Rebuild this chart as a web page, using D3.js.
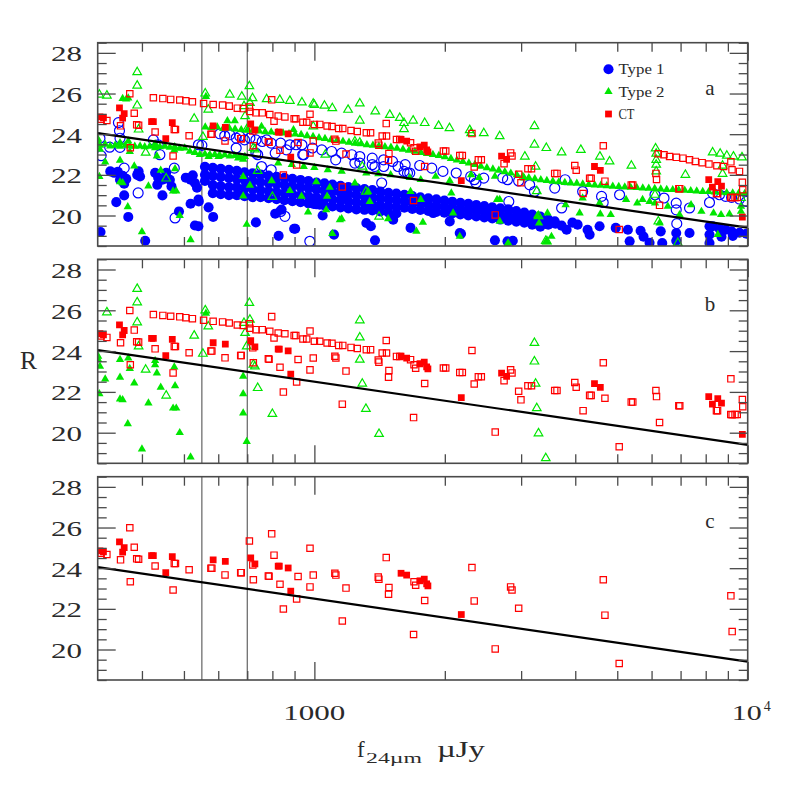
<!DOCTYPE html>
<html><head><meta charset="utf-8">
<script src="https://cdn.jsdelivr.net/npm/d3@7/dist/d3.min.js"></script>
<style>html,body{margin:0;padding:0;background:#fff;}svg{display:block;font-family:"Liberation Serif","DejaVu Serif",serif;}</style>
</head><body>
<svg id="chart" width="789" height="789"></svg>
<script>
// ---------------- DATA ----------------
const xDomain = [316.2, 10000];
const yDomain = [18.5, 28.5];
const yMajorTicks = [20, 22, 24, 26, 28];
const yTickLabels = ["20", "22", "24", "26", "28"];
const xMajorTicks = [1000, 10000];
const xMinorTicks = [400, 500, 600, 700, 800, 900, 2000, 3000, 4000, 5000, 6000, 7000, 8000, 9000];
const vLines = [550, 700];
const fitLine = [[316.2, 24.05], [10000, 19.4]];
const legendItems = ["Type 1", "Type 2", "CT"];
const panelLetters = ["a", "b", "c"];

// Type 1 (panel a only): dense band of filled circles
const type1Band = [
[559,22.4],[559,22.0],[559,21.7],
[583,22.35],[583,21.95],[583,21.5],[583,21.1],
[608,22.3],[608,21.9],[608,21.45],[608,21.05],
[635,22.25],[635,21.85],[635,21.4],[635,21.0],
[662,22.2],[662,21.8],[662,21.4],[662,21.0],
[690,22.12],[690,21.75],[690,21.35],[690,20.95],
[720,22.08],[720,21.7],[720,21.3],[720,20.9],
[751,22.02],[751,21.65],[751,21.25],[751,20.9],
[784,21.96],[784,21.6],[784,21.2],[784,20.85],
[818,21.9],[818,21.55],[818,21.15],[818,20.8],
[853,21.85],[853,21.5],[853,21.1],[853,20.75],
[890,21.8],[890,21.45],[890,21.05],[890,20.7],
[929,21.75],[929,21.4],[929,21.0],[929,20.65],
[969,21.7],[969,21.35],[969,20.95],[969,20.6],
[1011,21.62],[1011,21.28],[1011,20.9],[1011,20.55],
[1055,21.58],[1055,21.22],[1055,20.85],[1055,20.5],
[1101,21.52],[1101,21.18],[1101,20.8],[1101,20.45],
[1149,21.46],[1149,21.12],[1149,20.75],[1149,20.4],
[1198,21.4],[1198,21.06],[1198,20.7],[1198,20.35],
[1250,21.35],[1250,21.0],[1250,20.65],[1250,20.3],
[1305,21.3],[1305,20.95],[1305,20.6],[1305,20.28],
[1361,21.25],[1361,20.9],[1361,20.55],[1361,20.25],
[1420,21.18],[1420,20.85],[1420,20.5],[1420,20.2],
[1482,21.12],[1482,20.8],[1482,20.45],[1482,20.15],
[1546,21.08],[1546,20.75],[1546,20.42],[1546,20.1],
[1613,21.02],[1613,20.7],[1613,20.38],
[1683,20.96],[1683,20.64],[1683,20.32],
[1756,20.9],[1756,20.58],[1756,20.27],
[1832,20.85],[1832,20.53],[1832,20.22],
[1912,20.8],[1912,20.48],[1912,20.18],
[1995,20.74],[1995,20.43],[1995,20.14],
[2081,20.68],[2081,20.38],[2081,20.1],
[2172,20.63],[2172,20.33],[2172,20.05],
[2266,20.57],[2266,20.28],[2266,20.0],
[2364,20.52],[2364,20.23],[2364,19.95],
[2467,20.46],[2467,20.18],[2467,19.9],
[2574,20.4],[2574,20.12],[2574,19.85],
[2686,20.35],[2686,20.06],[2686,19.8],
[2802,20.3],[2802,20.0],[2802,19.75],
[2924,20.22],[2924,19.95],[2924,19.7],
[3051,20.15],[3051,19.9],[3051,19.65],
[3183,20.05],[3183,19.8],[3183,19.55],
[3321,19.95],[3321,19.7],[3321,19.45],
[3465,19.8],[3465,19.55],[3600,19.6]
];
const type1Filled = [
[321,19.19],[349,20.66],[364,20.99],[372,19.93],[338,22.17],[345,22.1],[352,22.15],[361,21.95],[356,21.76],[364,21.56],[368,21.8],
[390,22.0],[396,21.92],[393,22.17],[407,18.76],[429,22.1],[436,21.86],[434,21.51],[446,21.76],[455,22.1],[464,21.76],[468,21.43],
[446,20.99],[487,20.2],[505,21.86],[518,21.76],[530,21.6],[536,21.37],[524,21.98],[518,20.58],[530,19.51],[540,20.78],[584,19.93],
[733,19.66],[812,20.09],[840,20.29],[827,19.0],[898,19.35],[541,20.69],[570,20.4],[540,19.47],[667,21.02],[996,20.57],[1110,19.06],
[1160,21.02],[1360,20.53],[1318,19.63],[1350,19.47],[1380,18.78],[1520,19.79],[1667,19.39],[1880,20.12],[2053,19.71],[2165,19.14],
[2610,18.78],[2790,18.73],[1029,20.53],[1045,20.0],[903,19.35],[2180,19.1],[2870,18.76],[3030,19.83],[3310,19.71],[3450,19.6],
[3587,19.71],[3720,19.5],[3820,19.3],[3940,19.65],[4050,19.55],[4270,19.3],[4317,19.06],[4552,19.47],[4960,19.39],[5290,19.3],
[5340,18.73],[5660,19.25],[5750,18.96],[5936,18.66],[6300,19.22],[6350,18.65],[6840,19.14],[6840,18.76],[7341,19.14],[8163,19.47],
[8163,19.06],[8163,18.65],[8300,19.47],[8609,19.35],[8890,19.3],[9180,19.22],[9573,19.15],[9930,19.1],[8700,18.96],[9240,19.0]
];
const type1Open = [
[353,24.57],[355,24.17],[320,23.8],[322,22.94],[337,23.36],[356,23.35],[356,23.8],[364,22.33],[392,21.11],[425,23.72],[436,23.48],
[440,22.99],[475,22.33],[477,19.88],[540,23.48],[550,23.45],
[605,24.02],[621,23.92],[638,23.97],[660,23.81],[673,23.89],[690,23.72],[710,23.81],[733,23.72],[758,23.64],[776,23.72],[795,23.56],
[836,23.56],[878,23.48],[907,23.48],[936,23.48],[990,23.32],[1040,23.23],[1096,23.15],[1156,23.07],[1220,22.99],[1273,22.9],[1360,22.82],
[1445,22.74],[1515,22.66],[1620,22.5],[1750,22.46],[1866,22.33],[1980,22.17],[2125,22.09],[2295,21.92],[2340,21.76],[2460,21.84],
[2720,21.85],[2790,21.76],[2960,21.7],[3139,21.51],[3220,21.18],[3587,21.35],[3790,21.76],[4160,21.18],[4600,20.94],[5062,21.02],
[6410,20.86],[6840,20.61],[6840,20.28],[7341,20.37],[8163,20.64],[8300,21.1],[8609,21.02],[8890,20.94],[9180,20.89],[9573,20.81],[9930,20.69],
[660,23.32],[733,23.07],[862,23.23],[755,22.41],[795,22.25],[855,19.96],[836,20.2],[740,22.99],[812,23.07],[945,22.99],[976,18.73],
[1240,22.58],[1380,22.41],[1430,21.6],[1640,22.09],[1120,22.74],[940,22.99],[2360,21.6],[2810,20.69],[3720,20.37],[4640,20.64],
[6860,19.6],[6110,21.02],[1273,22.58],[1360,22.5],[1445,22.41],[1560,22.41],[1610,22.17],[1660,22.09]
];

// Type 2 shown in panels a and b
const type2FilledCommon = [
[317,23.74],[317,23.58],[320,23.25],[329,22.63],[319,21.91],[356,23.58],[372,23.66],[375,23.14],[356,22.71],[356,21.65],[361,21.61],
[371,20.43],[384,22.43],[400,19.2],[414,21.45],[429,23.53],[429,23.33],[433,22.92],[442,22.22],[475,23.22],[477,22.3],[472,21.2],
[480,21.2],[489,20.0],[518,18.8],[685,22.76],[685,21.91],[685,20.96],[698,19.56],[562,25.85]
];
const type2OpenCommon = [
[332,25.9],[390,27.05],[390,26.39],[390,25.41],[393,24.23],[408,23.09],[455,21.82],[528,24.76],[553,23.87],[560,26.0],[569,25.21],
[688,25.38],[692,24.89],[708,26.36],[710,25.54],[698,24.23],[723,23.33],[729,23.25],[740,22.19],[800,20.92],[1273,25.51],[1273,24.67],
[1273,23.58],[1290,22.4],[1315,21.17],[1410,19.94],[3220,24.4],[3220,23.49],[3240,22.4],[3260,21.2],[3290,19.97],[3420,18.75]
];
// Type 2 only in panel a: upper dense sequence
const type2RowA = [
[560,24.35],[578,24.32],[597,24.35],[616,24.28],[636,24.3],[656,24.25],[678,24.22],[700,24.2],[722,24.2],[746,24.15],[770,24.12],
[795,24.1],[820,24.08],[847,24.05],[874,24.02],[903,24.0],[932,23.98],[962,23.92],[993,23.88],[1025,23.82],[1058,23.78],[1092,23.72],
[1128,23.7],[1164,23.65],[1202,23.6],[1241,23.55],[1281,23.52],[1322,23.48],[1365,23.45],[1409,23.42],[1455,23.38],[1502,23.35],
[1551,23.3],[1601,23.25],[1653,23.2],[1706,23.15],[1762,23.1],[1819,23.05],[1877,23.0],[1938,22.95],[2001,22.88],[2066,22.8],
[2132,22.72],[2201,22.65],[2273,22.58],[2346,22.5],[2422,22.42],[2501,22.35],[2582,22.28],[2665,22.22],[2751,22.15],[2840,22.08],
[2932,22.0],[3027,21.93],[3125,21.86],[3227,21.8],[3331,21.75],[3439,21.72],[3550,21.68],[3665,21.65],[3784,21.62],[3906,21.6],
[4033,21.58],[4163,21.55],[4298,21.52],[4437,21.5],[4581,21.48],[4729,21.46],[4882,21.44],[5040,21.42],[5204,21.4],[5372,21.38],
[5546,21.37],[5726,21.35],[5911,21.34],[6102,21.32],[6300,21.3],[6504,21.28],[6714,21.27],[6932,21.25],[7156,21.24],[7388,21.22],
[7627,21.2],[7874,21.18],[8129,21.17],[8392,21.15],[8664,21.14],[8945,21.12],[9234,21.1],[9533,21.09],[9842,21.08]
];
const type2FilledA = [
[320,23.45],[329,23.5],[338,23.42],[347,23.45],[356,23.4],[366,23.45],[375,23.42],[385,23.4],[396,23.42],[406,23.38],[417,23.4],
[428,23.45],[440,23.38],[452,23.4],[464,23.35],[476,23.38],[489,23.3],[502,23.32],[516,23.15],[530,23.1],[544,23.0],[559,23.02],
[574,22.98],[589,23.0],[605,22.95],[621,22.98],[638,22.92],[655,22.95],[673,22.9],[691,22.9],
[570,22.9],[601,22.9],[667,22.82],[825,22.58],[887,22.5],[945,22.41],[1000,22.36],[1074,22.25],[1156,22.17],[710,21.48],[797,21.71],
[878,21.22],[934,20.94],[967,20.17],[1065,20.28],[1156,19.84],[1085,21.38],[1010,21.65],
[1318,22.09],[1405,22.05],[1500,22.0],[1660,21.87],[1760,21.76],[1905,21.92],[2053,21.71],[2300,22.0],[2400,21.87],[2610,21.92],
[1342,20.69],[1330,21.18],[1480,19.84],[1667,21.18],[1720,19.22],[2090,20.12],[2165,18.97],[2677,20.78],[2677,19.71],[2790,18.57],
[1145,19.79],[1240,21.6],[1070,20.94],[1100,19.11],[1760,20.78],[1780,19.66],[2070,21.1],[2640,20.78],[2800,18.65],[3050,21.84],
[3270,20.0],[3300,19.63],[3430,18.71],[3450,20.12],[3800,20.53],[4094,20.12],[4160,20.86],[4552,20.61],[4570,20.07],[4830,20.04],
[5240,20.78],[5560,20.61],[5720,20.78],[5936,20.69],[6110,20.61],[6540,20.45],[6260,19.63],[6961,20.04],[7400,20.53],[7820,20.2],
[8340,20.12],[8680,20.04],[9078,20.07],[9650,20.2],[9650,20.45],[3525,18.97],[8530,19.06],
[630,24.66],[655,24.66],[755,24.38],[895,24.22],[361,25.75],[368,25.72],[372,25.78]
];
const type2OpenA = [
[319,25.94],[638,25.94],[680,25.85],[720,25.77],[776,25.72],[832,25.69],[878,25.64],[936,25.56],[994,25.5],[1000,25.44],[1055,25.4],
[1100,25.28],[1196,25.2],[1382,25.12],[1493,24.95],[1574,24.8],[1690,24.67],[1797,24.55],[1935,24.41],[2050,24.3],[2283,24.2],
[2460,24.05],[2677,23.9],[3430,23.32],[3720,23.1],[4120,23.23],[4560,22.9],[4800,22.66],[5390,22.45],[6130,23.3],[6150,23.04],
[6150,22.74],[6150,22.5],[6150,22.17],[7180,22.0],[8300,23.1],[8640,23.04],[8950,22.94],[9270,22.9],[9700,22.86],[994,24.38],
[1610,24.55],[1610,24.25],[2300,24.05],[1240,23.64],[1060,22.99],[6110,21.02],[6220,19.71],[8750,22.45],[8750,22.05],[9650,20.86],
[3440,18.73],[6900,18.65],[3060,22.9]
];

// CT: shown in all three panels
const ctFilledC = [
[320,24.85],[326,24.8],[355,25.29],[364,25.01],[361,24.79],[421,24.62],[425,24.62],[470,24.57],[454,23.78],[584,24.41],[623,24.34],
[713,24.51],[729,24.21],[825,24.1],[830,24.1],[870,24.01],[882,22.87],[1585,23.75],[1633,23.66],[1753,23.38],[1793,23.46],
[1816,23.23],[1828,23.13],[2183,21.72]
];
const ctOpenC = [
[322,24.74],[332,24.67],[357,24.41],[375,25.99],[384,25.03],[376,23.33],[389,24.46],[393,24.44],[429,24.11],[472,22.93],[475,24.23],
[478,24.23],[514,23.92],[577,24.0],[580,24.0],[622,23.67],[676,23.78],[678,23.78],[708,25.34],[723,23.43],[721,24.16],[783,23.62],
[786,23.6],[797,25.69],[807,24.64],[833,23.21],[848,21.99],[910,22.49],[917,23.59],[977,24.98],[994,23.66],[977,23.08],[1115,23.75],
[1121,23.66],[1183,23.02],[1160,21.4],[1404,23.56],[1409,23.46],[1465,24.52],[1486,23.05],[1483,22.72],[1698,23.33],[1713,23.16],
[1694,20.74],[1797,22.41],[2310,24.03],[2338,22.39],[2614,20.03],[2837,23.08],[2858,22.93],[2961,22.03],[4642,23.43],[4683,21.69],
[5052,19.31],[9145,22.64],[9208,20.88]
];
// CT: panels a and b only
const ctFilledB = [[2704,22.92],[2777,22.76],[4430,22.41],[4570,22.22],[8130,21.77],[8530,21.67],[8290,21.4],[8700,21.45],[9720,19.92]];
const ctOpenB = [
[3990,22.46],[4020,22.23],[4170,21.08],[6140,22.07],[6160,21.77],[6260,20.5],[9720,21.63],[9740,21.27],[8470,21.08],[8520,21.08],
[2740,22.55],[2997,21.61]
];
const ctRow = [
[425,25.79],[447,25.75],[466,25.71],[489,25.68],[505,25.64],[523,25.59],[555,25.51],[584,25.46],[614,25.43],[636,25.38],[664,25.28],
[685,25.26],[710,25.12],[733,25.05],[758,25.05],[789,24.97],[825,24.89],[855,24.85],[898,24.76],[906,24.76],[941,24.59],[960,24.59],
[1000,24.48],[1029,24.48],[1070,24.4],[1098,24.38],[1138,24.28],[1163,24.28],[1215,24.18],[1256,24.13],[1318,24.07],[1348,24.07],
[1434,23.91],[1467,23.91],[1547,23.74],[1574,23.74],[1667,23.58],[1985,23.17],[2010,23.17],[2165,22.95],[2195,22.95],[2390,22.74],
[2428,22.74],[3110,22.3],[3170,22.3],[3586,22.07],[3630,22.07],[4317,21.83],[4353,21.83],[5385,21.5],[5430,21.5],[6935,21.32],
[6970,21.32],[9140,20.89],[9350,20.89],[9460,20.89]
];
// CT: panel a only
const ctRowA = [
[6216,23.04],[6410,22.99],[6602,22.9],[6843,22.86],[7090,22.82],[7341,22.74],[7571,22.66],[7850,22.6],[8140,22.53],[8490,22.45],
[8800,22.41],[9200,22.25],[9573,22.17]
];

// ---------------- DRAWING ----------------
const svg = d3.select('#chart');
const X0 = 97.7, X1 = 747.7;
const x = d3.scaleLog().domain(xDomain).range([X0, X1]);
const BLUE = '#0000ff', GREEN = '#00e600', RED = '#ff0000';
const INK = '#2a2a2a', AXIS = '#4a4a4a';

const panels = [
  {id: 'a', top: 42.7, bottom: 246, letterY: 95},
  {id: 'b', top: 259.3, bottom: 463.3, letterY: 311},
  {id: 'c', top: 476.7, bottom: 680, letterY: 528}
];

const S = {
  t1F: {shape: d3.symbolCircle, size: 80, fill: true, color: BLUE},
  t1O: {shape: d3.symbolCircle, size: 78, fill: false, color: BLUE},
  t2F: {shape: d3.symbolTriangle, size: 30, fill: true, color: GREEN},
  t2O: {shape: d3.symbolTriangle, size: 32, fill: false, color: GREEN},
  ctF: {shape: d3.symbolSquare, size: 46, fill: true, color: RED},
  ctO: {shape: d3.symbolSquare, size: 40, fill: false, color: RED}
};
const seriesByPanel = {
  a: [
    [S.t1F, type1Band.concat(type1Filled)],
    [S.t1O, type1Open],
    [S.t2F, type2FilledCommon.concat(type2RowA, type2FilledA)],
    [S.t2O, type2OpenCommon.concat(type2OpenA)],
    [S.ctF, ctFilledC.concat(ctFilledB)],
    [S.ctO, ctOpenC.concat(ctOpenB, ctRow, ctRowA)]
  ],
  b: [
    [S.t2F, type2FilledCommon],
    [S.t2O, type2OpenCommon],
    [S.ctF, ctFilledC.concat(ctFilledB)],
    [S.ctO, ctOpenC.concat(ctOpenB, ctRow)]
  ],
  c: [
    [S.ctF, ctFilledC],
    [S.ctO, ctOpenC]
  ]
};

const defs = svg.append('defs');
function styleAxis(sel) {
  sel.select('.domain').remove();
  sel.selectAll('.tick text').remove();
  sel.selectAll('.tick line').attr('stroke', AXIS).attr('stroke-width', 1.3);
}

panels.forEach((p, pi) => {
  const y = d3.scaleLinear().domain(yDomain).range([p.bottom, p.top]);
  const g = svg.append('g').attr('class', 'panel-' + p.id);
  const clipId = 'clip-' + p.id;
  defs.append('clipPath').attr('id', clipId).append('rect')
    .attr('x', X0).attr('y', p.top).attr('width', X1 - X0).attr('height', p.bottom - p.top);

  // vertical reference lines
  g.append('g').selectAll('line').data(vLines).join('line')
    .attr('x1', d => x(d)).attr('x2', d => x(d)).attr('y1', p.top).attr('y2', p.bottom)
    .attr('stroke', '#555').attr('stroke-width', 1.1);

  // points
  const pg = g.append('g').attr('clip-path', `url(#${clipId})`);
  seriesByPanel[p.id].forEach(([st, data]) => {
    const sym = d3.symbol().type(st.shape).size(st.size);
    pg.append('g').selectAll('path').data(data).join('path')
      .attr('d', sym)
      .attr('transform', d => `translate(${x(d[0]).toFixed(2)},${y(d[1]).toFixed(2)})`)
      .attr('fill', st.fill ? st.color : 'none')
      .attr('stroke', st.fill ? 'none' : st.color)
      .attr('stroke-width', 1.2);
  });

  // fit line
  g.append('path').datum(fitLine)
    .attr('d', d3.line().x(d => x(d[0])).y(d => y(d[1])))
    .attr('fill', 'none').attr('stroke', '#000').attr('stroke-width', 2.2)
    .attr('clip-path', `url(#${clipId})`);

  // ticks (inward)
  const yMinor = d3.range(18.5, 28.51, 0.5).filter(v => yMajorTicks.indexOf(v) < 0);
  g.append('g').attr('transform', `translate(${X0},0)`).call(d3.axisLeft(y).tickValues(yMajorTicks).tickSize(-18).tickSizeOuter(0)).call(styleAxis);
  g.append('g').attr('transform', `translate(${X0},0)`).call(d3.axisLeft(y).tickValues(yMinor).tickSize(-9).tickSizeOuter(0)).call(styleAxis);
  g.append('g').attr('transform', `translate(${X1},0)`).call(d3.axisRight(y).tickValues(yMajorTicks).tickSize(-18).tickSizeOuter(0)).call(styleAxis);
  g.append('g').attr('transform', `translate(${X1},0)`).call(d3.axisRight(y).tickValues(yMinor).tickSize(-9).tickSizeOuter(0)).call(styleAxis);
  g.append('g').attr('transform', `translate(0,${p.top})`).call(d3.axisTop(x).tickValues(xMajorTicks).tickSize(-18).tickSizeOuter(0)).call(styleAxis);
  g.append('g').attr('transform', `translate(0,${p.top})`).call(d3.axisTop(x).tickValues(xMinorTicks).tickSize(-9).tickSizeOuter(0)).call(styleAxis);
  g.append('g').attr('transform', `translate(0,${p.bottom})`).call(d3.axisBottom(x).tickValues(xMajorTicks).tickSize(-18).tickSizeOuter(0)).call(styleAxis);
  g.append('g').attr('transform', `translate(0,${p.bottom})`).call(d3.axisBottom(x).tickValues(xMinorTicks).tickSize(-9).tickSizeOuter(0)).call(styleAxis);

  // frame
  g.append('rect').attr('x', X0).attr('y', p.top).attr('width', X1 - X0).attr('height', p.bottom - p.top)
    .attr('fill', 'none').attr('stroke', AXIS).attr('stroke-width', 1.6);

  // y tick labels
  g.append('g').selectAll('text').data(yMajorTicks).join('text')
    .attr('x', 51).attr('y', d => y(d) + 8.5)
    .attr('font-size', 21).attr('fill', INK)
    .attr('textLength', 31).attr('lengthAdjust', 'spacingAndGlyphs')
    .text((d, i) => yTickLabels[i]);

  // panel letter
  g.append('text').attr('x', 710).attr('y', p.letterY).attr('text-anchor', 'middle')
    .attr('font-size', 21).attr('fill', INK).text(panelLetters[pi]);

  // legend in panel a
  if (p.id === 'a') {
    const lg = g.append('g');
    const legendShapes = [S.t1F, S.t2F, S.ctF];
    const ly = [69.3, 91.7, 114];
    legendItems.forEach((t, i) => {
      const st = legendShapes[i];
      lg.append('path').attr('d', d3.symbol().type(st.shape).size(st.size)())
        .attr('transform', `translate(608.5,${ly[i]})`).attr('fill', st.color);
      lg.append('text').attr('x', 618.5).attr('y', ly[i] + 5).attr('font-size', 14).attr('fill', INK)
        .attr('textLength', t === 'CT' ? 16 : 46).attr('lengthAdjust', 'spacingAndGlyphs').text(t);
    });
  }
});

// x tick labels (bottom panel)
svg.append('text').attr('x', x(1000) - 31).attr('y', 720).attr('font-size', 21).attr('fill', INK)
  .attr('textLength', 62).attr('lengthAdjust', 'spacingAndGlyphs').text('1000');
svg.append('text').attr('x', x(10000) - 16).attr('y', 720).attr('font-size', 21).attr('fill', INK)
  .attr('textLength', 30).attr('lengthAdjust', 'spacingAndGlyphs').text('10');
svg.append('text').attr('x', x(10000) + 16).attr('y', 711).attr('font-size', 14).attr('fill', INK).text('4');

// axis titles
svg.append('text').attr('x', 20).attr('y', 369).attr('font-size', 25).attr('fill', INK)
  .attr('textLength', 17).attr('lengthAdjust', 'spacingAndGlyphs').text('R');
svg.append('text').attr('x', 357).attr('y', 757).attr('font-size', 23).attr('fill', INK).text('f');
svg.append('text').attr('x', 366).attr('y', 763).attr('font-size', 14).attr('fill', INK)
  .attr('textLength', 56).attr('lengthAdjust', 'spacingAndGlyphs').text('24µm');
svg.append('text').attr('x', 437).attr('y', 757).attr('font-size', 23).attr('fill', INK)
  .attr('textLength', 48).attr('lengthAdjust', 'spacingAndGlyphs').text('µJy');
</script>
</body></html>
